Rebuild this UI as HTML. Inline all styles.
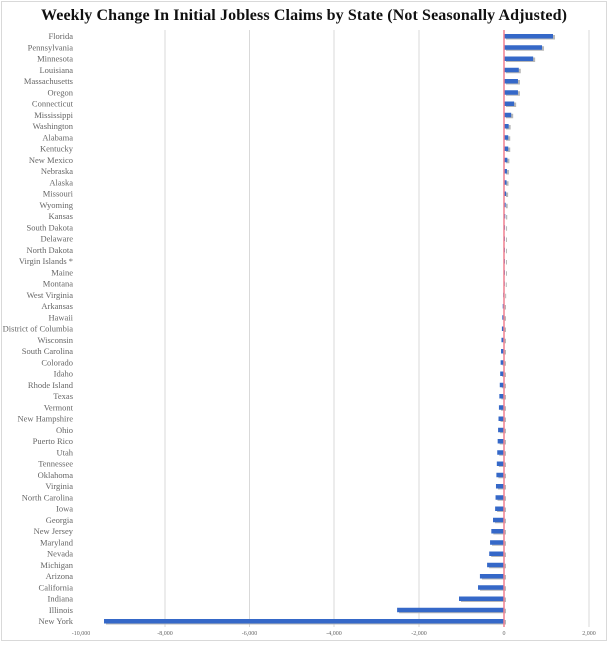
<!DOCTYPE html>
<html><head><style>body{margin:0;background:#fff}</style></head><body>
<svg width="608" height="642" xmlns="http://www.w3.org/2000/svg" font-family="Liberation Serif, serif">
<rect x="1.5" y="1.5" width="605" height="639" fill="#fff" stroke="#d9d9d9"/>
<text x="304" y="20" text-anchor="middle" font-size="16" font-weight="bold" fill="#111" textLength="526">Weekly Change In Initial Jobless Claims by State (Not Seasonally Adjusted)</text>
<g stroke="#d9d9d9" stroke-width="1">
<line x1="165" y1="30" x2="165" y2="627"/><line x1="249.5" y1="30" x2="249.5" y2="627"/><line x1="334" y1="30" x2="334" y2="627"/><line x1="419" y1="30" x2="419" y2="627"/><line x1="589" y1="30" x2="589" y2="627"/>
</g>
<g font-size="6" fill="#666" text-anchor="middle">
<text x="81" y="635">-10,000</text><text x="165" y="635">-8,000</text><text x="249.5" y="635">-6,000</text><text x="334" y="635">-4,000</text><text x="419" y="635">-2,000</text><text x="504" y="635">0</text><text x="589" y="635">2,000</text>
</g>
<g id="bars"></g>
<line x1="504" y1="30" x2="504" y2="627" stroke="#f08090" stroke-width="1.5"/>
<g id="labels" font-size="8.5" fill="#666" text-anchor="end"></g>
<script>
var d=[["Florida",1160],["Pennsylvania",900],["Minnesota",690],["Louisiana",350],["Massachusetts",330],["Oregon",330],["Connecticut",240],["Mississippi",170],["Washington",110],["Alabama",100],["Kentucky",100],["New Mexico",80],["Nebraska",70],["Alaska",60],["Missouri",50],["Wyoming",40],["Kansas",30],["South Dakota",25],["Delaware",20],["North Dakota",10],["Virgin Islands *",5],["Maine",0],["Montana",-5],["West Virginia",-20],["Arkansas",-30],["Hawaii",-40],["District of Columbia",-50],["Wisconsin",-60],["South Carolina",-70],["Colorado",-80],["Idaho",-90],["Rhode Island",-100],["Texas",-110],["Vermont",-120],["New Hampshire",-130],["Ohio",-140],["Puerto Rico",-150],["Utah",-160],["Tennessee",-170],["Oklahoma",-180],["Virginia",-190],["North Carolina",-200],["Iowa",-210],["Georgia",-260],["New Jersey",-300],["Maryland",-330],["Nevada",-350],["Michigan",-400],["Arizona",-570],["California",-615],["Indiana",-1065],["Illinois",-2530],["New York",-9467]];
var ns="http://www.w3.org/2000/svg",b=document.getElementById("bars"),l=document.getElementById("labels");
d.forEach(function(r,i){var y=36+i*11.25,x=504+r[1]*0.04225,x0=Math.min(x,504),w=Math.max(Math.abs(x-504),1);
var s=document.createElementNS(ns,"rect");s.setAttribute("x",x0+2);s.setAttribute("y",y-1);s.setAttribute("width",w);s.setAttribute("height",4.5);s.setAttribute("fill","#b8b8b8");b.appendChild(s);
var e=document.createElementNS(ns,"rect");e.setAttribute("x",x0);e.setAttribute("y",y-2);e.setAttribute("width",w);e.setAttribute("height",4.5);e.setAttribute("fill","#3568c8");b.appendChild(e);
var t=document.createElementNS(ns,"text");t.setAttribute("x",73);t.setAttribute("y",y+3);t.textContent=r[0];l.appendChild(t);});
</script>
</svg>
</body></html>
